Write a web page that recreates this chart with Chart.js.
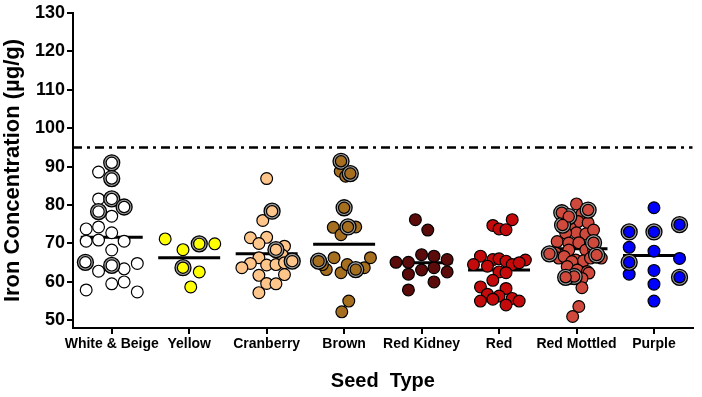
<!DOCTYPE html>
<html>
<head>
<title>Iron concentration by seed type</title>
<script src="https://cdn.jsdelivr.net/npm/chart.js@4.4.1/dist/chart.umd.min.js"></script>
<style>
  html, body { margin: 0; padding: 0; background: #fff; }
  #wrap { width: 702px; height: 397px; }
</style>
</head>
<body>
<div id="wrap"><canvas id="chart"></canvas></div>
<script>
// categories and axis ticks
const categories = ['White & Beige', 'Yellow', 'Cranberry', 'Brown', 'Red Kidney', 'Red', 'Red Mottled', 'Purple'];
const yTicks = [50, 60, 70, 80, 90, 100, 110, 120, 130];
const colours = ['#ffffff', '#ffff00', '#ffc68c', '#a66f1f', '#5c0b0b', '#c40a0a', '#cf4a3c', '#0000ff'];
const means = [71.6, 66.3, 67.3, 69.8, 65.0, 63.1, 68.6, 66.9];
const threshold = 95;

// each point: [offset from category centre, iron ug/g, ringed]
const whiteBeige = [
  [0, 91.0, 1], [0, 86.9, 1], [0, 81.6, 1], [0.16, 79.5, 1], [-0.17, 78.3, 1], [-0.34, 65.1, 1], [0, 64.3, 1],
  [-0.17, 88.6, 0], [-0.17, 81.6, 0], [0, 77.1, 0], [-0.33, 73.8, 0], [-0.17, 74.3, 0], [0, 72.8, 0],
  [-0.33, 70.6, 0], [-0.17, 70.9, 0], [0.16, 70.6, 0], [0, 68.3, 0], [0.33, 64.8, 0], [-0.17, 62.8, 0],
  [0.16, 63.4, 0], [0, 59.5, 0], [0.16, 60.0, 0], [-0.33, 57.9, 0], [0.33, 57.4, 0]
];
const yellow = [
  [-0.31, 71.2, 0], [-0.08, 68.4, 0], [0.13, 69.9, 1], [0.33, 69.9, 0], [-0.08, 63.7, 1], [0.13, 62.6, 0], [0.02, 58.7, 0]
];
const cranberry = [
  [0, 86.9, 0], [0.07, 78.4, 1], [-0.05, 76.0, 0], [-0.21, 71.5, 0], [0, 71.6, 0], [-0.10, 70.0, 0],
  [0.23, 69.3, 0], [0.12, 68.4, 1], [0.2, 67.0, 0], [-0.10, 66.3, 0], [0.33, 65.4, 1], [-0.21, 64.8, 0],
  [0, 64.4, 0], [0.12, 64.5, 0], [0.23, 65.0, 0], [-0.32, 63.7, 0], [-0.10, 61.7, 0], [0.23, 61.9, 0],
  [0, 59.6, 0], [0.12, 59.5, 0], [-0.10, 57.2, 0]
];
const brown = [
  [-0.04, 91.4, 1], [0.08, 88.2, 1], [-0.05, 88.8, 0], [0.02, 87.5, 0], [0, 79.3, 1], [-0.14, 74.2, 0],
  [0.05, 74.3, 1], [0.15, 74.3, 0], [-0.04, 72.3, 0], [-0.33, 65.4, 1], [-0.13, 66.3, 0], [0.34, 66.3, 0],
  [-0.23, 63.2, 0], [-0.04, 62.4, 0], [0.04, 64.5, 0], [0.15, 63.2, 1], [0.26, 63.7, 0], [-0.28, 64.5, 0],
  [0.06, 55.0, 0], [-0.03, 52.2, 0]
];
const redKidney = [
  [-0.08, 76.2, 0], [0.08, 73.5, 0], [0, 67.1, 0], [0.16, 66.7, 0], [-0.33, 65.1, 0], [-0.17, 65.1, 0],
  [0.33, 65.8, 0], [0, 63.1, 0], [0.16, 63.7, 0], [-0.17, 62.0, 0], [0.33, 62.6, 0], [0.16, 60.0, 0],
  [-0.17, 57.9, 0]
];
const red = [
  [0.17, 76.2, 0], [-0.08, 74.7, 0], [0, 73.8, 0], [0.09, 73.6, 0], [-0.24, 66.7, 0], [-0.08, 65.8, 0],
  [0, 66.0, 0], [0.09, 65.4, 0], [0.34, 65.7, 0], [-0.33, 64.5, 0], [-0.15, 64.1, 0], [0.17, 64.5, 0],
  [0.26, 65.0, 0], [0, 62.6, 0], [0.09, 62.4, 0], [-0.08, 60.4, 0], [-0.24, 58.7, 0], [0.09, 58.3, 0],
  [-0.15, 56.8, 0], [0, 56.3, 0], [-0.08, 55.5, 0], [0.17, 55.7, 0], [-0.24, 55.0, 0], [0.26, 55.0, 0],
  [0.09, 54.0, 0]
];
const redMottled = [
  [0, 80.3, 0], [0.15, 78.7, 1], [-0.19, 78.0, 1], [-0.10, 77.0, 1], [0.07, 77.7, 0], [0.02, 75.7, 0],
  [0.15, 75.4, 0], [-0.18, 74.8, 1], [-0.08, 74.0, 0], [0, 72.8, 0], [0.12, 72.5, 0], [-0.14, 72.7, 0],
  [0.22, 73.5, 0], [-0.25, 70.5, 0], [-0.10, 70.1, 0], [0.03, 70.2, 0], [0.22, 70.2, 1], [0.16, 68.8, 0],
  [-0.10, 68.3, 0], [0.12, 68.3, 0], [0.22, 68.5, 0], [-0.35, 67.3, 1], [-0.27, 67.5, 0], [-0.23, 66.2, 0],
  [-0.16, 66.6, 0], [0.32, 66.2, 0], [-0.01, 65.7, 0], [0.09, 65.5, 0], [0.18, 66.2, 0], [0.26, 67.0, 1],
  [-0.06, 65.3, 0], [-0.12, 64.0, 0], [0.01, 63.1, 0], [0.14, 62.7, 0], [0.16, 62.3, 0], [-0.03, 61.4, 1],
  [-0.14, 61.2, 1], [-0.10, 60.9, 0], [0.07, 60.9, 0], [0.07, 58.5, 0], [0.03, 53.6, 0], [-0.05, 51.0, 0]
];
const purple = [
  [0, 79.3, 0], [0.33, 74.9, 1], [-0.32, 73.0, 1], [0, 73.0, 1], [-0.32, 69.0, 0], [0, 68.0, 0],
  [-0.32, 65.1, 1], [0.33, 66.1, 0], [-0.32, 62.0, 0], [0, 63.0, 0], [0.33, 61.2, 1], [0, 59.4, 0],
  [0, 55.0, 0]
];
const groups = [whiteBeige, yellow, cranberry, brown, redKidney, red, redMottled, purple];

const fontFamily = "'Liberation Sans', Arial, sans-serif";
const datasets = [];

// dash-dot reference line
datasets.push({
  type: 'line',
  data: [{ x: -0.5, y: threshold }, { x: categories.length - 0.5, y: threshold }],
  borderColor: '#000', borderWidth: 2.5, borderDash: [9, 5, 3, 5],
  pointRadius: 0, order: 10
});

// mean bars, drawn behind the dots
means.forEach(function (m, i) {
  datasets.push({
    type: 'line',
    data: [{ x: i - 0.4, y: m }, { x: i + 0.4, y: m }],
    borderColor: '#000', borderWidth: 3, pointRadius: 0, order: 9
  });
});

groups.forEach(function (g, i) {
  const plain = g.filter(p => !p[2]).map(p => ({ x: i + p[0], y: p[1] }));
  const ringed = g.filter(p => p[2]).map(p => ({ x: i + p[0], y: p[1] }));
  // plain dots
  datasets.push({
    type: 'scatter', data: plain, pointRadius: 5.9,
    backgroundColor: colours[i], borderColor: '#000', borderWidth: 1.2, order: 8
  });
  // outer grey ring
  datasets.push({
    type: 'scatter', data: ringed, pointRadius: 8,
    backgroundColor: '#9c9c9c', borderColor: '#000', borderWidth: 1.3, order: 7
  });
  // inner fill of ringed dots
  datasets.push({
    type: 'scatter', data: ringed, pointRadius: 5.6,
    backgroundColor: colours[i], borderColor: '#000', borderWidth: 1.2, order: 6
  });
});

new Chart(document.getElementById('chart'), {
  type: 'scatter',
  data: { datasets: datasets },
  options: {
    responsive: true,
    maintainAspectRatio: false,
    devicePixelRatio: 1,
    animation: false,
    layout: { padding: { top: 13, right: 5, left: 0, bottom: 0 } },
    plugins: { legend: { display: false }, tooltip: { enabled: false } },
    scales: {
      x: {
        type: 'linear',
        min: -0.5,
        max: categories.length - 0.5,
        afterBuildTicks: function (s) { s.ticks = categories.map((c, i) => ({ value: i })); },
        afterFit: function (s) { s.height = 69; s.paddingLeft = 0; s.paddingRight = 0; },
        ticks: {
          callback: function (v) { return categories[v]; },
          autoSkip: false, maxRotation: 0, color: '#000', padding: 2,
          font: { family: fontFamily, size: 14, weight: 'bold' }
        },
        grid: { drawOnChartArea: false, drawTicks: true, tickLength: 6, color: '#000', lineWidth: 2 },
        border: { color: '#000', width: 2 },
        title: {
          display: true, text: 'Seed  Type', color: '#000',
          font: { family: fontFamily, size: 20, weight: 'bold' },
          padding: { top: 0, bottom: 4 }
        }
      },
      y: {
        type: 'linear',
        min: 48,
        max: 130,
        afterBuildTicks: function (s) { s.ticks = yTicks.map(v => ({ value: v })); },
        afterFit: function (s) { s.width = 73; },
        ticks: {
          color: '#000', padding: 2,
          font: { family: fontFamily, size: 18, weight: 'bold' }
        },
        grid: { drawOnChartArea: false, drawTicks: true, tickLength: 6, color: '#000', lineWidth: 2 },
        border: { color: '#000', width: 2 },
        title: {
          display: true, text: 'Iron Concentration (\u00b5g/g)', color: '#000',
          font: { family: fontFamily, size: 22, weight: 'bold' },
          padding: { top: 0, bottom: 0 }
        }
      }
    }
  }
});
</script>
</body>
</html>
